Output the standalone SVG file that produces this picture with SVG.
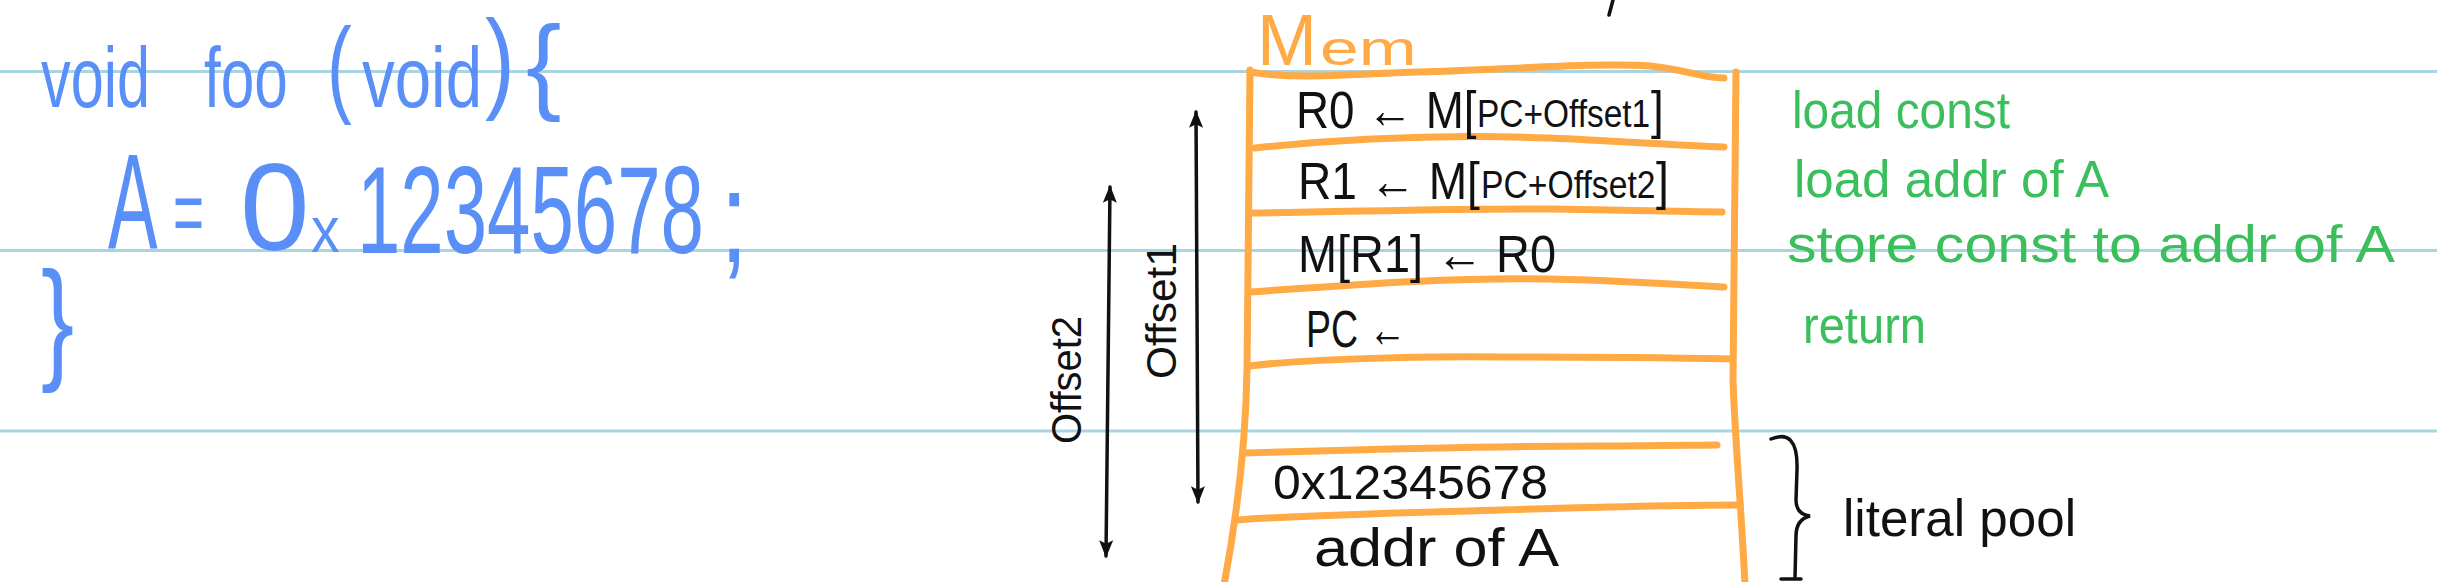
<svg xmlns="http://www.w3.org/2000/svg" width="2437" height="582" viewBox="0 0 2437 582">
<style>
text{font-family:"Liberation Sans","DejaVu Sans",sans-serif}
.code{fill:#5A8FF8}
.blk{fill:#111}
.grn{fill:#3BBF5C}
.org{fill:#FFAA45}
.rule{stroke:#A9D5E3;stroke-width:3;fill:none}
.frame{stroke:#FFAA45;stroke-width:7;fill:none;stroke-linecap:round;stroke-linejoin:round}
.ink{stroke:#111;stroke-width:3.5;fill:none;stroke-linecap:round}
</style>
<defs>
<marker id="ah" viewBox="0 0 10 10" refX="9" refY="5" markerWidth="5" markerHeight="5" orient="auto-start-reverse" markerUnits="strokeWidth">
<path d="M0,1 L10,5 L0,9 L2,5 Z" fill="#111"/>
</marker>
</defs>
<rect width="2437" height="582" fill="#fff"/>
<g id="ruling">
<line class="rule" x1="0" y1="71.5" x2="2437" y2="71.5"/>
<line class="rule" x1="0" y1="250.5" x2="2437" y2="250.5"/>
<line class="rule" x1="0" y1="431" x2="2437" y2="431"/>
</g>
<g id="code">
<text class="code" transform="translate(41,107) scale(0.70,1)" font-size="85">void</text>
<text class="code" transform="translate(204,107) scale(0.71,1)" font-size="85">foo</text>
<text class="code" transform="translate(327,103) scale(0.69,1)" font-size="108">(</text>
<text class="code" transform="translate(362,107) scale(0.77,1)" font-size="85">void</text>
<text class="code" transform="translate(485,98) scale(0.80,1)" font-size="112">)</text>
<text class="code" transform="translate(526,100)" font-size="106">{</text>
<text class="code" transform="translate(108,248) scale(0.55,1)" font-size="135">A</text>
<text class="code" transform="translate(173,243) scale(0.59,1)" font-size="90">=</text>
<text class="code" transform="translate(240,250)" font-size="125">0</text>
<text class="code" transform="translate(311,252) scale(0.88,1)" font-size="65">x</text>
<text class="code" transform="translate(357,253) scale(0.624,1)" font-size="125">12345678</text>
<text class="code" transform="translate(720,262) scale(0.78,1)" font-size="130">;</text>
<text class="code" transform="translate(41,365) scale(0.74,1)" font-size="134">}</text>
</g>
<g id="stray">
<path class="ink" d="M1613,0 L1609,15"/>
</g>
<g id="mem-frame">
<text class="org" transform="translate(1257,65)" font-size="72">M</text>
<text class="org" transform="translate(1320,65) scale(1.45,1)" font-size="48">em</text>
<path class="frame" d="M1250,70 L1247,370 C1246,430 1240,500 1224,585"/>
<path class="frame" d="M1736,72 L1733,380 C1735,440 1742,520 1745,585"/>
<path class="frame" d="M1250,72 C1300,80 1350,74 1420,72 C1500,70 1600,62 1650,66 C1690,70 1700,78 1724,78"/>
<path class="frame" d="M1255,148 C1350,138 1450,134 1550,138 C1620,141 1680,146 1724,147"/>
<path class="frame" d="M1252,213 C1350,212 1450,208 1550,209 C1620,210 1680,212 1722,212"/>
<path class="frame" d="M1250,292 C1350,285 1450,277 1550,279 C1630,281 1690,285 1724,287"/>
<path class="frame" d="M1248,366 C1300,360 1400,356 1500,357 C1600,357 1680,358 1733,359"/>
<path class="frame" d="M1245,453 C1350,450 1500,446 1600,446 C1660,446 1700,445 1717,445"/>
<path class="frame" d="M1238,520 C1300,515 1400,513 1500,510 C1600,507 1700,505 1740,505"/>
</g>
<g id="row-1">
<text class="blk" transform="translate(1296,128) scale(0.88,1)" font-size="52">R0 ← M[</text>
<text class="blk" transform="translate(1477,127) scale(0.88,1)" font-size="38">PC+Offset1</text>
<text class="blk" transform="translate(1651,128) scale(0.88,1)" font-size="52">]</text>
</g>
<g id="row-2">
<text class="blk" transform="translate(1298,199) scale(0.887,1)" font-size="52">R1 ← M[</text>
<text class="blk" transform="translate(1481,198) scale(0.887,1)" font-size="38">PC+Offset2</text>
<text class="blk" transform="translate(1656,199) scale(0.887,1)" font-size="52">]</text>
</g>
<g id="row-3"><text class="blk" x="1298" y="272" font-size="52" textLength="258" lengthAdjust="spacingAndGlyphs">M[R1] ← R0</text></g>
<g id="row-4"><text class="blk" x="1306" y="347" font-size="52" textLength="100" lengthAdjust="spacingAndGlyphs">PC ←</text></g>
<g id="row-6"><text class="blk" x="1273" y="499" font-size="49" textLength="275" lengthAdjust="spacingAndGlyphs">0x12345678</text></g>
<g id="row-7"><text class="blk" x="1314" y="566" font-size="54" textLength="245" lengthAdjust="spacingAndGlyphs">addr of A</text></g>
<g id="comments">
<text class="grn" x="1792" y="128" font-size="52" textLength="218" lengthAdjust="spacingAndGlyphs">load const</text>
<text class="grn" x="1794" y="197" font-size="52" textLength="315" lengthAdjust="spacingAndGlyphs">load addr of A</text>
<text class="grn" x="1787" y="262" font-size="52" textLength="608" lengthAdjust="spacingAndGlyphs">store const to addr of A</text>
<text class="grn" x="1803" y="343" font-size="52" textLength="123" lengthAdjust="spacingAndGlyphs">return</text>
</g>
<g id="literal-pool-label">
<text class="blk" x="1843" y="536" font-size="52" textLength="233" lengthAdjust="spacingAndGlyphs">literal pool</text>
</g>
<g id="offset-labels">
<text class="blk" transform="translate(1176,311) rotate(-90)" text-anchor="middle" font-size="42" textLength="136" lengthAdjust="spacingAndGlyphs">Offset1</text>
<text class="blk" transform="translate(1081,380) rotate(-90)" text-anchor="middle" font-size="42" textLength="128" lengthAdjust="spacingAndGlyphs">Offset2</text>
</g>
<g id="connectors">
<path class="ink" d="M1196,112 L1198,502" marker-start="url(#ah)" marker-end="url(#ah)"/>
<path class="ink" d="M1110,187 L1106,556" marker-start="url(#ah)" marker-end="url(#ah)"/>
<path class="ink" d="M1771,439 C1788,432 1798,440 1797,470 L1796,500 C1796,511 1802,515 1810,516 C1802,518 1796,523 1796,536 L1795,578 M1781,579 L1801,579"/>
</g>
</svg>
